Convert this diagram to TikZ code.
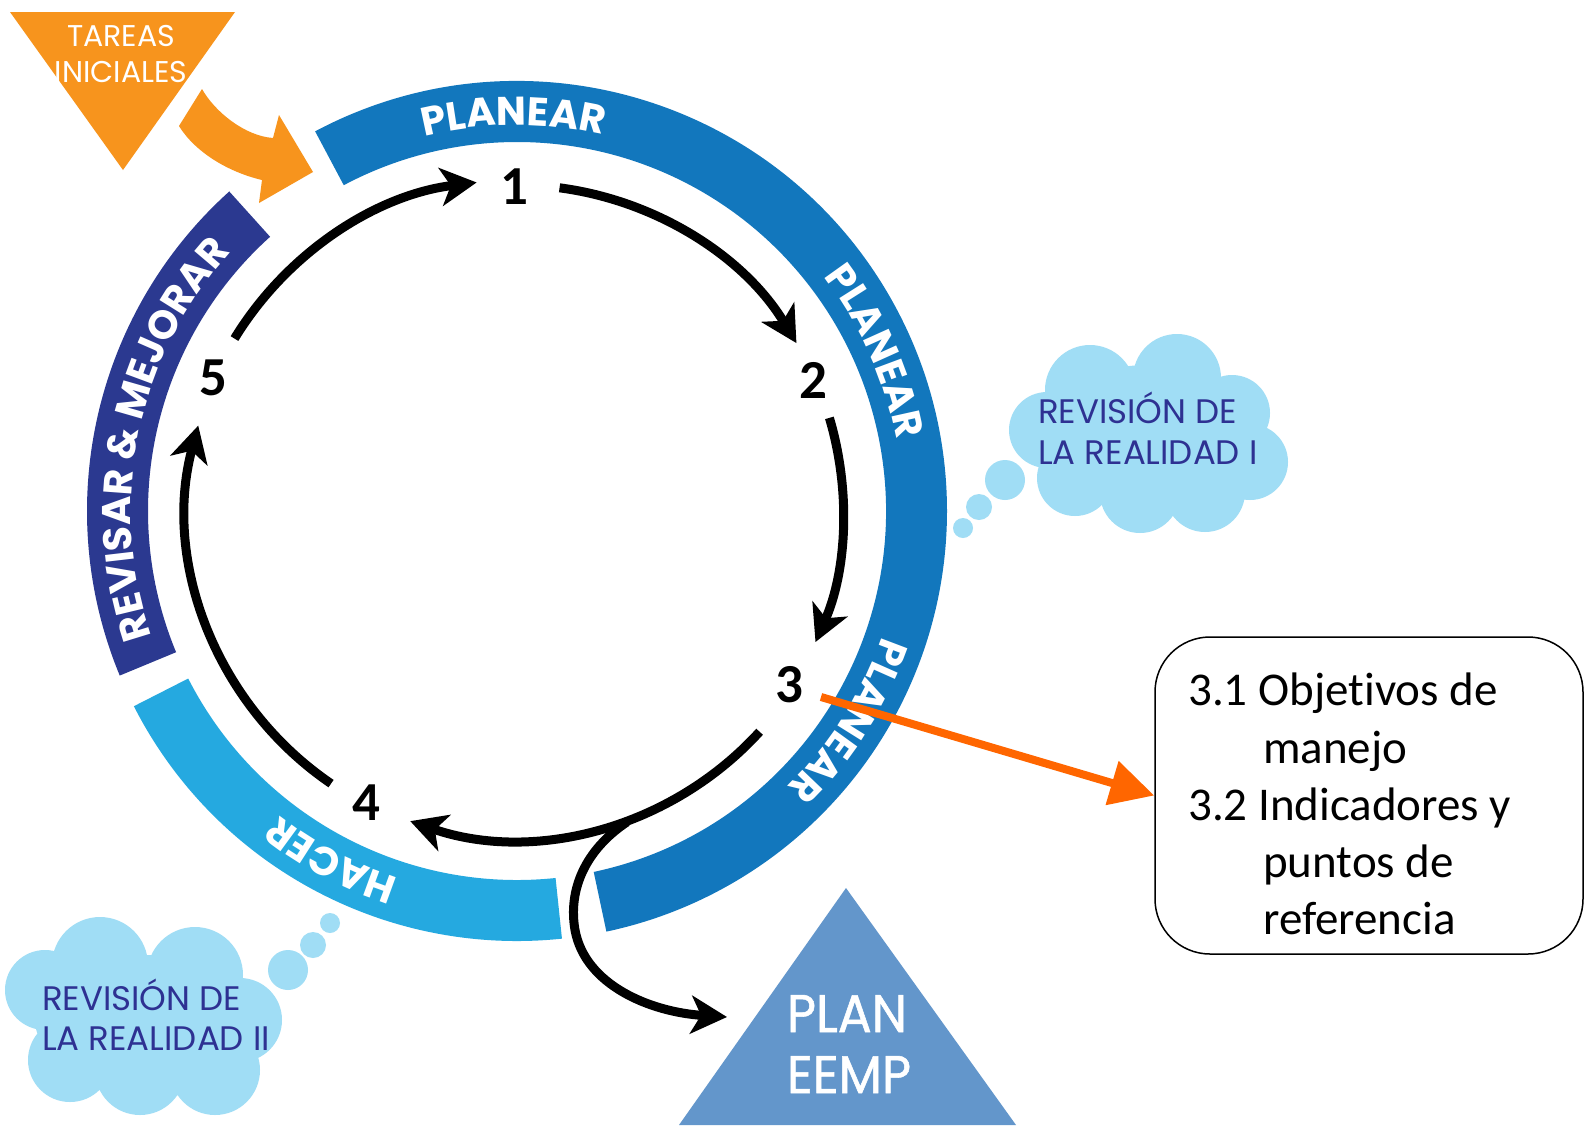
\documentclass[tikz,border=0pt]{standalone}
\usepackage{fontspec}
\setmainfont{Carlito}[Ligatures=NoCommon]
\newfontfamily\pop{Poppins}
\newfontfamily\popplan{Poppins}[FakeStretch=0.95,FakeBold=1]
\usetikzlibrary{arrows.meta,decorations.text,calc}
\definecolor{planearc}{HTML}{1277BD}
\definecolor{hacerc}{HTML}{25A9E0}
\definecolor{revisarc}{HTML}{2B3990}
\definecolor{tareasc}{HTML}{F7941D}
\definecolor{cloudc}{HTML}{A0DDF5}
\definecolor{cloudtext}{HTML}{2E3192}
\definecolor{plantri}{HTML}{6396CB}
\definecolor{arroworange}{HTML}{FF6600}
\newcommand\bandfont{\pop\bfseries\fontsize{40}{40}\selectfont}
\newcommand\ringband[3]{\fill[#1] ([shift={(#2:430)}]C) arc[start angle=#2,end angle=#3,radius=430] -- ([shift={(#3:369)}]C) arc[start angle=#3,end angle=#2,radius=369] -- cycle;}
\newcommand\bandlabel[3]{\path[decorate,decoration={text along path,text align=center,text color=white,text={|\bandfont|#3}}] ([shift={(#1+#2:386)}]C) arc[start angle=#1+#2,end angle=#1-#2,radius=386];}
\begin{document}
\begin{tikzpicture}[x=1pt,y=1pt,
  blk/.style={line width=9pt,draw=black,-{Stealth[length=36pt,width=38pt,inset=10pt]}},
  num/.style={font=\bfseries\fontsize{55}{55}\selectfont,inner sep=0pt},
  cloudlbl/.style={font=\pop\fontsize{34}{34}\selectfont,text=cloudtext,anchor=base west,inner sep=0pt},
  whitelbl/.style={text=white,anchor=base,inner sep=0pt}]
\useasboundingbox (0,0) rectangle (1587,-1125);
\fill[white] (0,0) rectangle (1587,-1125);
\coordinate (C) at (517,-511);
% ring bands
\ringband{planearc}{118}{-78}
\ringband{hacerc}{-84}{-153}
\ringband{revisarc}{202.5}{132}
% band labels
\bandlabel{90.5}{35}{PLANEAR}
\bandlabel{24}{35}{PLANEAR}
\bandlabel{-32.3}{35}{PLANEAR}
\bandlabel{242}{30}{HACER}
\bandlabel{168.4}{45}{REVISAR {\&} MEJORAR}
% tareas iniciales
\fill[tareasc] (10,-12) -- (235,-12) -- (123,-170) -- cycle;
\node[whitelbl,font=\pop\fontsize{30}{30}\selectfont] (tar1) at (121,-46) {TAREAS};
\node[whitelbl,font=\pop\fontsize{30}{30}\selectfont] (tar2) at (121,-82) {INICIALES};
\fill[tareasc] (202,-89) .. controls (215,-112) and (245,-136) .. (273,-138) -- (279,-115) -- (313,-172) -- (259,-203) -- (262,-180) .. controls (228,-172) and (195,-152) .. (179,-126) -- cycle;
% numbers
\node[num] (n1) at (514,-187) {1};
\node[num] (n2) at (813,-380) {2};
\node[num] (n3) at (789,-685) {3};
\node[num] (n4) at (366,-803) {4};
\node[num] (n5) at (213,-378) {5};
% cycle arrows
\draw[blk] ([shift={(82.5:326)}]C) arc[start angle=82.5,end angle=31,radius=326];
\draw[blk] ([shift={(16.6:326)}]C) arc[start angle=16.6,end angle=-23.7,radius=326];
\draw[blk] ([shift={(-42.3:328)}]C) arc[start angle=-42.3,end angle=-109,radius=328];
\draw[blk] ([shift={(-124.3:330)}]C) arc[start angle=-124.3,end angle=-195,radius=330];
\draw[blk] ([shift={(148.6:331)}]C) arc[start angle=148.6,end angle=97,radius=331];
% branch to plan
\fill[plantri] (846,-888) -- (1016,-1125) -- (679,-1125) -- cycle;
\node[whitelbl,font=\popplan\fontsize{53}{53}\selectfont] (plan1) at (847,-1032) {PLAN};
\node[whitelbl,font=\popplan\fontsize{53}{53}\selectfont] (plan2) at (849,-1093) {EEMP};
\coordinate (br) at (627,-822);
\coordinate (brend) at (727,-1017);
\draw[blk] (br) .. controls (585,-850) and (568,-890) .. (575,-930) .. controls (585,-985) and (650,-1012) .. (brend);
% clouds
\fill[cloudc] (1047,-430) circle[radius=38] (1090,-390) circle[radius=45] (1177,-378) circle[radius=44]
  (1232,-413) circle[radius=38] (1250,-462) circle[radius=38] (1205,-492) circle[radius=40]
  (1140,-493) circle[radius=40] (1075,-478) circle[radius=38] (1148,-435) ellipse[x radius=110,y radius=70]
  (1005,-480) circle[radius=20] (979,-507) circle[radius=13] (963,-528) circle[radius=10];
\node[cloudlbl] (c1a) at (1038,-423) {REVISIÓN DE};
\node[cloudlbl] (c1b) at (1038,-464) {LA REALIDAD I};
\fill[cloudc] (45,-990) circle[radius=40] (100,-965) circle[radius=48] (195,-975) circle[radius=48]
  (240,-1020) circle[radius=42] (215,-1070) circle[radius=45] (140,-1070) circle[radius=45]
  (70,-1060) circle[radius=42] (145,-1020) ellipse[x radius=110,y radius=65]
  (288,-970) circle[radius=20] (313,-945) circle[radius=13] (330,-923) circle[radius=10];
\node[cloudlbl] (c2a) at (42,-1010) {REVISIÓN DE};
\node[cloudlbl] (c2b) at (42,-1050) {LA REALIDAD II};
% detail box
\node[draw=black,line width=1.5pt,rounded corners=55pt,minimum width=428pt,minimum height=317pt,inner sep=0pt] (box) at (1369,-795.5) {};
\node[anchor=north west,inner sep=0pt,align=left,font=\fontsize{47}{57.25}\selectfont] (boxtext) at (1188,-673)
  {3.1 Objetivos de\\\hspace*{75pt}manejo\\3.2 Indicadores y\\\hspace*{75pt}puntos de\\\hspace*{75pt}referencia};
\coordinate (os) at (821,-697);
\draw[line width=8pt,arroworange,-{Triangle[length=44pt,width=44pt]}] (os) -- (box.west);
\end{tikzpicture}
\end{document}
